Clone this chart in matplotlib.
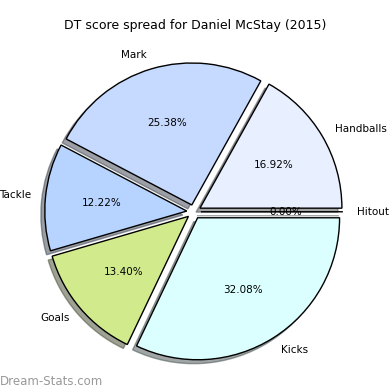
import matplotlib
matplotlib.use("Agg")
import matplotlib.pyplot as plt

labels = ["Hitout", "Handballs", "Mark", "Tackle", "Goals", "Kicks"]
values = [0.0, 16.92, 25.38, 12.22, 13.40, 32.08]
colors = ["#ffffff", "#e8efff", "#c6d9ff", "#b6d4ff", "#d1eb8c", "#dbffff"]
explode = [0.05] * len(values)

fig = plt.figure(figsize=(3.9, 3.9), dpi=100)
ax = fig.add_axes([0.042, 0.002, 0.91, 0.91])
ax.pie(values, labels=labels, colors=colors, explode=explode, autopct="%1.2f%%",
       shadow=True, startangle=0, counterclock=True,
       wedgeprops=dict(edgecolor="black", linewidth=1),
       textprops=dict(fontsize=7.5))
ax.set_aspect("equal")
fig.text(0.5, 0.925, "DT score spread for Daniel McStay (2015)", ha="center", fontsize=9)
fig.text(0.0, 0.012, "Dream-Stats.com", color="#999999", fontsize=8.5, ha="left")
fig.savefig("out.png", dpi=100)
